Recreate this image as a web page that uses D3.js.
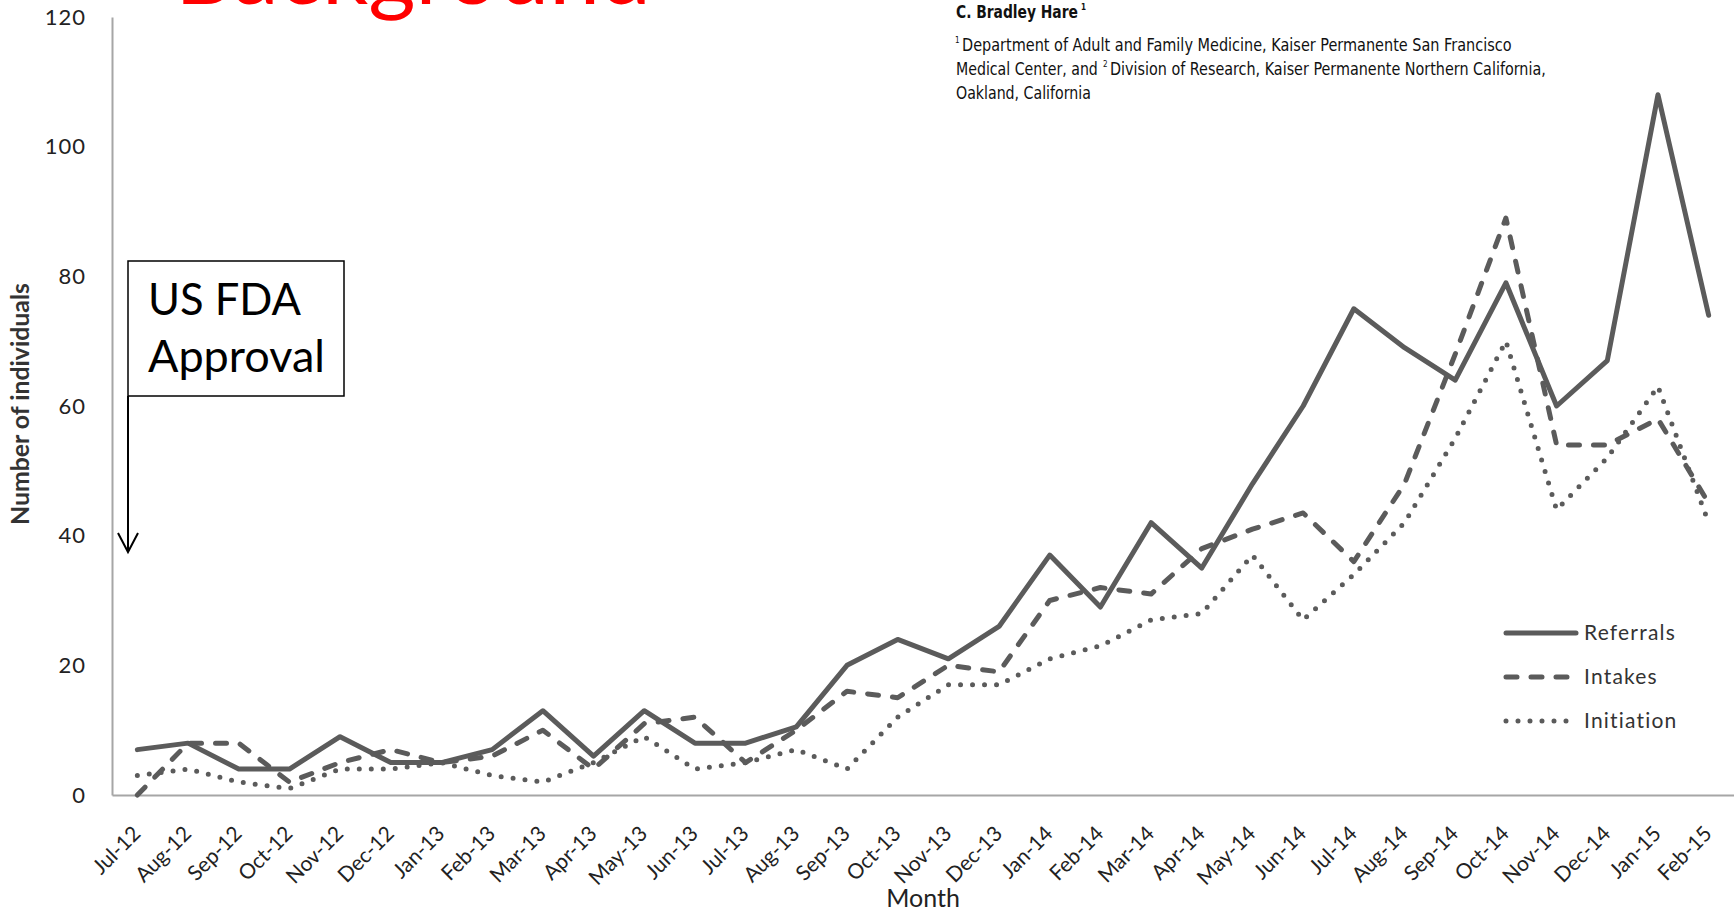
<!DOCTYPE html>
<html>
<head>
<meta charset="utf-8">
<script src="https://cdn.jsdelivr.net/npm/d3@7"></script>
<style>
body { margin: 0; background: #fff; }
text { font-family: Lato, "Open Sans", sans-serif; }
</style>
</head>
<body>
<svg id="svg"></svg>
<script>
const width = 1734;
const height = 914;

// data
const months = ["Jul-12", "Aug-12", "Sep-12", "Oct-12", "Nov-12", "Dec-12",
    "Jan-13", "Feb-13", "Mar-13", "Apr-13", "May-13", "Jun-13", "Jul-13", "Aug-13",
    "Sep-13", "Oct-13", "Nov-13", "Dec-13", "Jan-14", "Feb-14", "Mar-14", "Apr-14",
    "May-14", "Jun-14", "Jul-14", "Aug-14", "Sep-14", "Oct-14", "Nov-14", "Dec-14",
    "Jan-15", "Feb-15"];
const referrals = [7, 8, 4, 4, 9, 5, 5, 7, 13, 6, 13, 8, 8, 10.5, 20, 24, 21, 26,
    37, 29, 42, 35, 48, 60, 75, 69, 64, 79, 60, 67, 108, 74];
const intakes = [0, 8, 8, 2, 5, 7, 5, 6, 10, 4, 11, 12, 5, 10, 16, 15, 20, 19,
    30, 32, 31, 38, 41, 43.5, 36, 48, 68, 89, 54, 54, 58, 45];
const initiation = [3, 4, 2, 1, 4, 4, 5, 3, 2, 5, 9, 4, 5, 7, 4, 12, 17, 17,
    21, 23, 27, 28, 37, 27, 34, 42, 55, 70, 44, 52, 63, 42];
const yTicks = [0, 20, 40, 60, 80, 100, 120];
const seriesNames = ["Referrals", "Intakes", "Initiation"];

let svg = d3.select("#svg").attr("width", width).attr("height", height);

const plotLeft = 112, plotRight = 1734, plotTop = 17, plotBottom = 795;
const lineColour = "#5b5b5b";

let xScale = d3.scalePoint().domain(months).range([plotLeft, plotRight]).padding(0.5);
let yScale = d3.scaleLinear().domain([0, 120]).range([plotBottom, plotTop]);

// red slide title, cut off at the top
svg.append("text")
    .attr("x", 175).attr("y", 4)
    .attr("textLength", 476).attr("lengthAdjust", "spacingAndGlyphs")
    .style("font-size", "90px").style("fill", "#ff0000")
    .text("Background");

// author block - squeeze each line horizontally to the width seen in the picture
const authorFont = "'Liberation Sans Narrow', 'DejaVu Sans Condensed', 'Liberation Sans', sans-serif";
function authorText(x, y, len, str, size, bold) {
    let t = svg.append("text").attr("x", 0).attr("y", 0)
        .style("font-family", authorFont).style("font-size", size + "px")
        .style("font-weight", bold ? "bold" : "normal").style("fill", "#111")
        .text(str);
    let sx = 1;
    if (len) sx = len / t.node().getComputedTextLength();
    t.attr("transform", `translate(${x},${y}) scale(${sx},1)`);
    return t;
}
authorText(956, 18, 122, "C. Bradley Hare", 17, true);
authorText(1081, 10, null, "1", 8, true);
authorText(955, 43, null, "1", 8, false);
authorText(962, 51, 550, "Department of Adult and Family Medicine, Kaiser Permanente San Francisco", 17, false);
authorText(956, 75, 142, "Medical Center, and", 17, false);
authorText(1103, 67, null, "2", 8, false);
authorText(1110, 75, 436, "Division of Research, Kaiser Permanente Northern California,", 17, false);
authorText(956, 99, 135, "Oakland, California", 17, false);

// axes
let yAxis = svg.append("g")
    .attr("transform", `translate(${plotLeft},0)`)
    .call(d3.axisLeft(yScale).tickValues(yTicks).tickSize(0).tickPadding(26));
yAxis.select(".domain").attr("stroke", "#a6a6a6").attr("stroke-width", 2);
yAxis.selectAll("text").style("font-size", "22px").style("fill", "#222")
    .style("letter-spacing", "1px").style("font-family", "Lato, sans-serif");

let xAxis = svg.append("g")
    .attr("transform", `translate(0,${plotBottom})`)
    .call(d3.axisBottom(xScale).tickSize(0).tickSizeOuter(0).tickPadding(0));
xAxis.select(".domain").attr("stroke", "#a6a6a6").attr("stroke-width", 2);
xAxis.selectAll("text")
    .attr("text-anchor", "end")
    .attr("dy", null).attr("y", null)
    .attr("transform", "translate(4,40) rotate(-45)")
    .style("font-size", "21px").style("fill", "#222").style("font-family", "Lato, sans-serif");

// axis titles
svg.append("text")
    .attr("x", 923).attr("y", 907)
    .attr("text-anchor", "middle")
    .style("font-size", "25px").style("fill", "#222")
    .text("Month");

svg.append("text")
    .attr("transform", "translate(29,404) rotate(-90)")
    .attr("text-anchor", "middle")
    .attr("textLength", 242).attr("lengthAdjust", "spacingAndGlyphs")
    .style("font-size", "24px").style("font-weight", "bold").style("fill", "#333")
    .text("Number of individuals");

// series lines
const styles = [
    { data: referrals, width: 5, dash: null },
    { data: intakes, width: 5, dash: "11,14" },
    { data: initiation, width: 5, dash: "0,12" }
];

const line = d3.line()
    .x((d, i) => xScale(months[i]))
    .y(d => yScale(d));

styles.forEach(s => {
    svg.append("path")
        .datum(s.data)
        .attr("d", line)
        .attr("fill", "none")
        .attr("stroke", lineColour)
        .attr("stroke-width", s.width)
        .attr("stroke-linejoin", "round")
        .attr("stroke-linecap", "round")
        .attr("stroke-dasharray", s.dash);
});

// legend
const legend = svg.append("g").attr("transform", "translate(1503,633)");
seriesNames.forEach((name, i) => {
    const g = legend.append("g").attr("transform", `translate(0,${i * 44})`);
    g.append("line")
        .attr("x1", 3).attr("x2", 73).attr("y1", 0).attr("y2", 0)
        .attr("stroke", lineColour)
        .attr("stroke-width", styles[i].width)
        .attr("stroke-linecap", "round")
        .attr("stroke-dasharray", styles[i].dash);
    g.append("text")
        .attr("x", 81).attr("y", 0).attr("dy", "0.35em")
        .style("font-size", "21px").style("fill", "#333").style("letter-spacing", "1.2px")
        .text(name);
});

// FDA approval callout
svg.append("rect")
    .attr("x", 128).attr("y", 261).attr("width", 216).attr("height", 135)
    .attr("fill", "#fff").attr("stroke", "#000").attr("stroke-width", 1.5);
svg.append("text").attr("x", 148).attr("y", 315)
    .attr("textLength", 153).attr("lengthAdjust", "spacingAndGlyphs")
    .style("font-size", "45px").style("fill", "#000").text("US FDA");
svg.append("text").attr("x", 148).attr("y", 372)
    .style("font-size", "45px").style("fill", "#000").text("Approval");
svg.append("line")
    .attr("x1", 128).attr("x2", 128).attr("y1", 396).attr("y2", 552)
    .attr("stroke", "#000").attr("stroke-width", 2);
svg.append("polyline")
    .attr("points", "118,533 128,552 138,533")
    .attr("fill", "none").attr("stroke", "#000").attr("stroke-width", 2);
</script>
</body>
</html>
